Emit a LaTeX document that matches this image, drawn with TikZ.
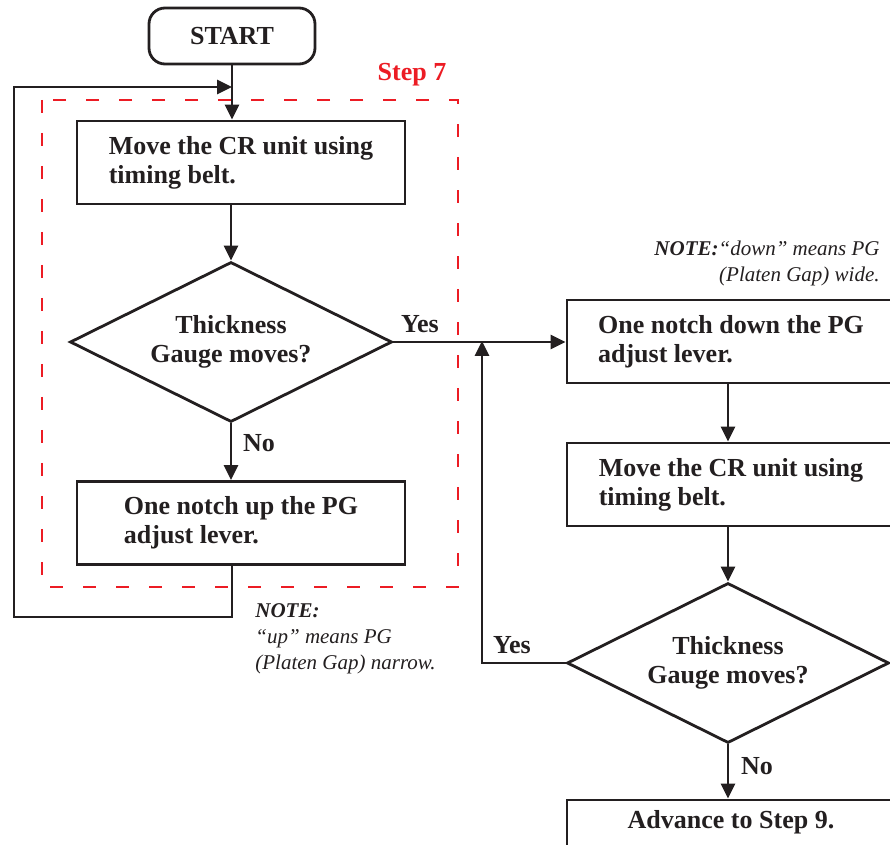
\documentclass[tikz,border=0pt]{standalone}
\usepackage{fontspec}
\setmainfont{Liberation Serif}
\usetikzlibrary{shapes.geometric,arrows.meta}
\definecolor{linegray}{RGB}{35,31,32}
\definecolor{stepred}{RGB}{236,28,36}
\begin{document}
\begin{tikzpicture}[x=0.5pt,y=-0.5pt,
  every node/.style={text=linegray},
  bigfont/.style={font=\fontsize{13}{14.5}\selectfont\bfseries},
  notefont/.style={font=\fontsize{10.5}{13}\selectfont\itshape},
  box/.style={bigfont, draw=linegray, line width=1.4pt, minimum width=164pt,
    minimum height=41.5pt, inner sep=0pt, align=left},
  decision/.style={bigfont, diamond, draw=linegray, line width=1.4pt, aspect=2,
    minimum width=161pt, minimum height=80pt, inner sep=0pt, align=center},
  flow/.style={draw=linegray, line width=1.4pt, -{Triangle[length=7.5pt,width=7pt]}}]
% Page frame
\useasboundingbox (0,0) rectangle (890,845);
\clip (0,0) rectangle (890,845);
% Step 7 frame
\draw[stepred, line width=1.3pt, dash pattern=on 6.5pt off 10pt] (42,100) rectangle (458,587);
\node[bigfont, text=stepred] (steplabel) at (412,75) {Step 7};
% Start
\node[bigfont, draw=linegray, line width=1.4pt, rounded corners=8pt,
  minimum width=83pt, minimum height=28pt] (start) at (232,36) {START};
% Left column
\node[box] (moveleft) at (241,162.5) {Move the CR unit using\\timing belt.};
\node[decision] (gaugeleft) at (231,342) {Thickness\\Gauge moves?};
\node[box] (notchup) at (241,523) {One notch up the PG\\adjust lever.};
% Right column
\node[box] (notchdown) at (731,341.5) {One notch down the PG\\adjust lever.};
\node[box] (moveright) at (731,484.5) {Move the CR unit using\\timing belt.};
\node[decision] (gaugeright) at (728,663) {Thickness\\Gauge moves?};
\node[box, align=center, text depth=22pt] (advance) at (731,841.5) {Advance to Step 9.};
% Loop corners
\coordinate (loopbottom) at (14,617);
\coordinate (looptop) at (14,87);
\coordinate (yesup) at (482,341);
% Connectors
\draw[flow] (start.south) -- (start.south |- moveleft.north);
\draw[flow] (moveleft.south -| gaugeleft.north) -- (gaugeleft.north);
\draw[flow] (gaugeleft.south) -- (gaugeleft.south |- notchup.north);
\draw[flow] (notchup.south -| start.south) -- (start.south |- loopbottom) -- (loopbottom)
  -- (looptop) -- (looptop -| start.south);
\draw[flow] (gaugeleft.east) -- (gaugeleft.east -| notchdown.west);
\draw[flow] (notchdown.south -| gaugeright.north) -- (moveright.north -| gaugeright.north);
\draw[flow] (moveright.south -| gaugeright.north) -- (gaugeright.north);
\draw[flow] (gaugeright.west) -- (gaugeright.west -| yesup) -- (yesup);
\draw[flow] (gaugeright.south) -- (gaugeright.south |- advance.north);
% Branch labels
\node[bigfont] (yesleft) at (420,324) {Yes};
\node[bigfont] (noleft) at (259,443) {No};
\node[bigfont] (yesright) at (512,645) {Yes};
\node[bigfont] (noright) at (757,766) {No};
% Notes
\node[notefont, align=right, anchor=east, inner sep=0pt] (notedown) at (880,263)
  {{\bfseries NOTE:}“down” means PG\\(Platen Gap) wide.};
\node[notefont, align=left, anchor=west, inner sep=0pt] (noteup) at (255,639)
  {{\bfseries NOTE:}\\“up” means PG\\(Platen Gap) narrow.};
\end{tikzpicture}
\end{document}
